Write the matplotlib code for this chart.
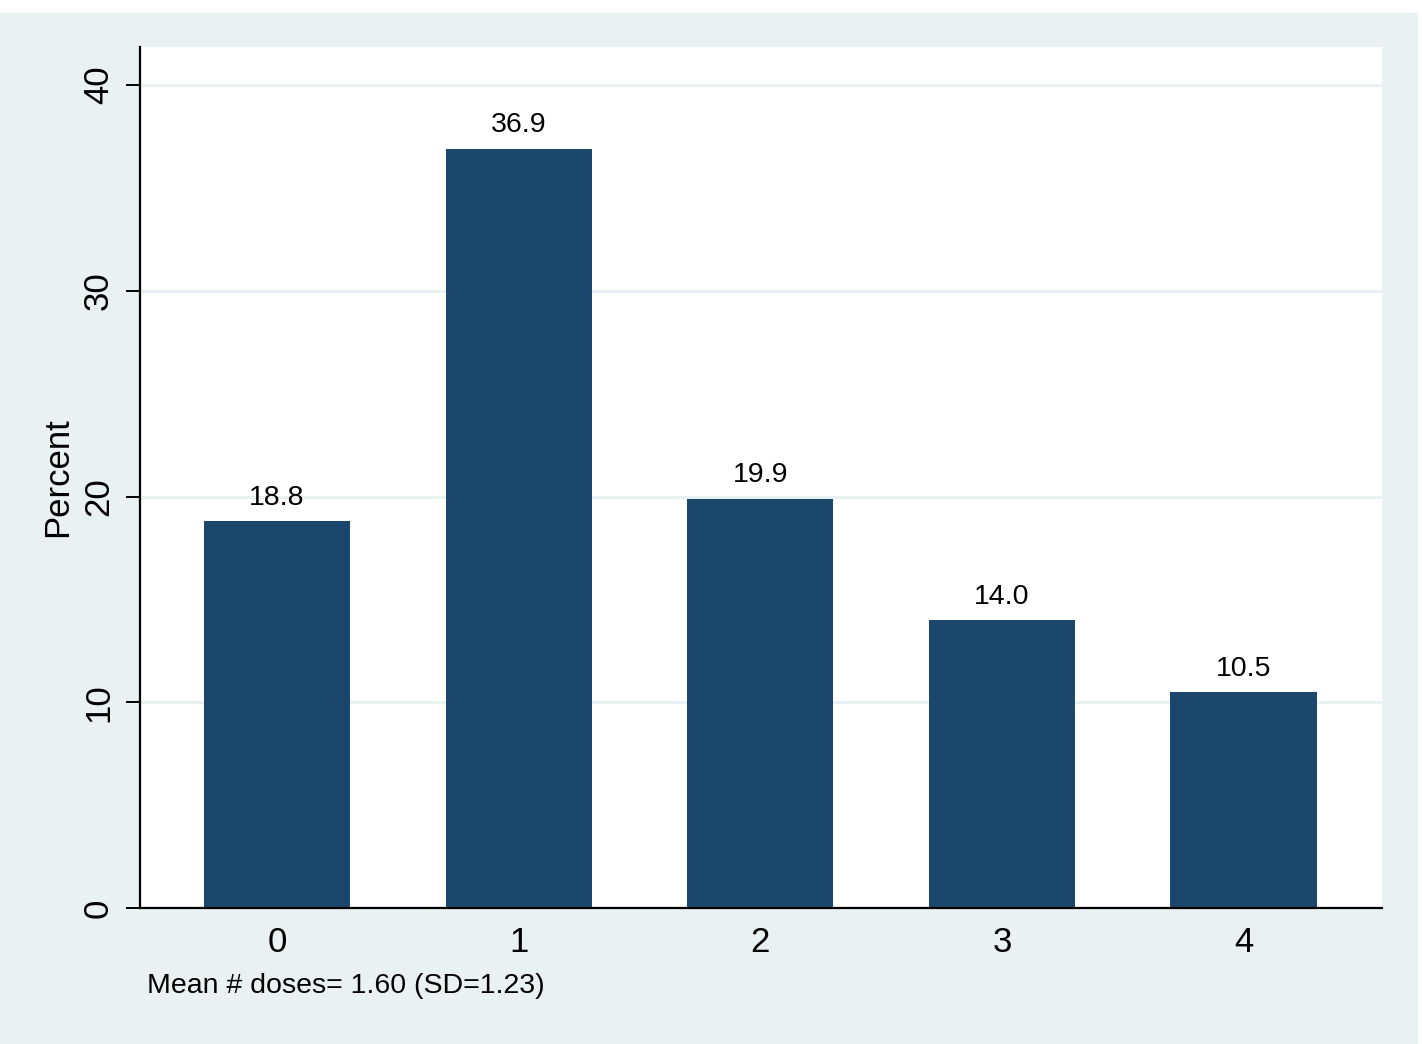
import numpy as np
import matplotlib
matplotlib.use("Agg")
import matplotlib.pyplot as plt
from matplotlib.patches import Rectangle

plt.rcParams['font.family'] = ['Liberation Sans', 'DejaVu Sans']

# doses received and percent of respondents
doses = [0, 1, 2, 3, 4]
percent = [18.8, 36.9, 19.9, 14.0, 10.5]
yticks = [0, 10, 20, 30, 40]
note = "Mean # doses= 1.60 (SD=1.23)"

bar_color = '#1c476d'
bg = '#eaf1f3'

fig = plt.figure(figsize=(14.22, 10.44), dpi=100, facecolor='white')
# graph region background (Stata style), leaves thin white strip top/right
fig.patches.append(Rectangle((0, 0), 1418 / 1422, 1 - 13 / 1044,
                             transform=fig.transFigure, facecolor=bg,
                             edgecolor='none', zorder=-5))

ax = fig.add_axes([140 / 1422, 1 - 908 / 1044, (1382 - 140) / 1422, (908 - 47) / 1044])
ax.set_zorder(2)
ax.set_facecolor('white')

bars = ax.bar(doses, percent, width=0.605, color=bar_color, zorder=2)
for x, v in zip(doses, percent):
    ax.annotate(f"{v:.1f}", (x, v), xytext=(0, 7.5), textcoords='offset points',
                ha='center', va='bottom', fontsize=20.5, zorder=3)

ax.set_xlim(-0.567, 4.573)
ax.set_ylim(0, 41.85)
ax.set_yticks(yticks)
ax.set_xticks(doses)
ax.set_xticklabels([str(d) for d in doses])
ax.set_yticklabels([str(t) for t in yticks], rotation=90, va='center')
ax.tick_params(axis='y', length=10, width=1.4, labelsize=25, pad=8)
ax.tick_params(axis='x', length=0, labelsize=25, pad=13)

ax.grid(axis='y', color=bg, linewidth=2.2, zorder=1)
ax.set_axisbelow(True)

for s in ['top', 'right']:
    ax.spines[s].set_visible(False)
for s in ['left', 'bottom']:
    ax.spines[s].set_linewidth(1.6)

ax.set_ylabel("Percent", fontsize=25, labelpad=6)

fig.text(147 / 1422, 1 - 986 / 1044, note, fontsize=20.5, ha='left', va='center')

fig.savefig("out.png", dpi=100, facecolor=fig.get_facecolor())
